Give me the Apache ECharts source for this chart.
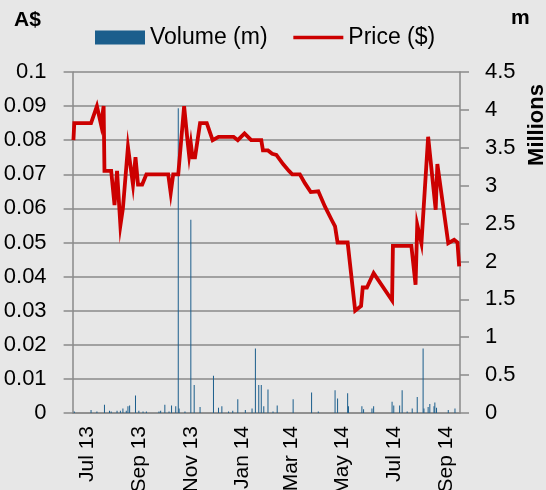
<!DOCTYPE html>
<html>
<head>
<meta charset="utf-8">
<script src="https://cdn.jsdelivr.net/npm/echarts@6/dist/echarts.min.js"></script>
<style>
html,body{margin:0;padding:0;background:#e7e7e7;}
#chart{width:546px;height:490px;}
</style>
</head>
<body>
<div id="chart"></div>
<script>
// Price ($) series
const priceDates = ['2013-06-14','2013-06-15','2013-07-05','2013-07-12','2013-07-17','2013-07-20','2013-07-21','2013-07-29','2013-08-02','2013-08-05','2013-08-09','2013-08-12','2013-08-18','2013-08-24','2013-08-27','2013-08-30','2013-09-04','2013-09-09','2013-10-05','2013-10-08','2013-10-11','2013-10-17','2013-10-24','2013-10-28','2013-10-30','2013-11-01','2013-11-03','2013-11-06','2013-11-12','2013-11-20','2013-11-27','2013-12-04','2013-12-22','2013-12-27','2014-01-04','2014-01-12','2014-01-24','2014-01-26','2014-02-01','2014-02-06','2014-02-11','2014-02-19','2014-02-26','2014-03-02','2014-03-11','2014-03-17','2014-03-24','2014-04-02','2014-04-10','2014-04-18','2014-04-22','2014-04-25','2014-05-07','2014-05-16','2014-05-23','2014-05-25','2014-05-30','2014-06-07','2014-06-29','2014-06-30','2014-07-22','2014-07-27','2014-07-29','2014-08-03','2014-08-11','2014-08-20','2014-08-22','2014-09-04','2014-09-11','2014-09-15','2014-09-17'];
const priceValues = [0.080,0.085,0.085,0.090,0.0845,0.090,0.071,0.071,0.061,0.071,0.055,0.060,0.078,0.067,0.075,0.067,0.067,0.070,0.070,0.0645,0.070,0.070,0.090,0.080,0.0755,0.079,0.075,0.075,0.085,0.085,0.080,0.081,0.081,0.080,0.082,0.080,0.080,0.077,0.077,0.076,0.0757,0.073,0.071,0.070,0.070,0.0674,0.0648,0.065,0.0605,0.0566,0.0547,0.050,0.050,0.030,0.0314,0.0368,0.0368,0.041,0.033,0.049,0.049,0.0376,0.0552,0.0498,0.081,0.0596,0.073,0.0498,0.0508,0.050,0.043];

// Volume (m) series, millions
const volumeDates = ['2013-06-15','2013-07-05','2013-07-12','2013-07-21','2013-07-27','2013-07-29','2013-08-05','2013-08-09','2013-08-12','2013-08-16','2013-08-18','2013-08-20','2013-08-27','2013-08-31','2013-09-05','2013-09-09','2013-09-24','2013-09-26','2013-10-01','2013-10-06','2013-10-09','2013-10-14','2013-10-17','2013-10-18','2013-10-25','2013-11-01','2013-11-05','2013-11-12','2013-11-28','2013-12-04','2013-12-08','2013-12-16','2013-12-21','2013-12-27','2014-01-05','2014-01-13','2014-01-17','2014-01-21','2014-01-24','2014-01-27','2014-02-01','2014-02-07','2014-02-12','2014-03-03','2014-03-25','2014-04-02','2014-04-22','2014-04-25','2014-05-07','2014-05-08','2014-05-24','2014-05-26','2014-06-05','2014-06-07','2014-06-29','2014-07-01','2014-07-08','2014-07-11','2014-07-17','2014-07-23','2014-07-29','2014-08-05','2014-08-06','2014-08-11','2014-08-13','2014-08-18','2014-08-19','2014-08-21','2014-09-04','2014-09-12'];
const volumeValues = [0.02,0.04,0.02,0.11,0.03,0.02,0.03,0.03,0.06,0.03,0.09,0.10,0.23,0.03,0.02,0.02,0.02,0.03,0.11,0.02,0.10,0.09,4.02,0.06,0.02,2.55,0.37,0.08,0.49,0.07,0.09,0.02,0.03,0.18,0.04,0.06,0.85,0.37,0.37,0.09,0.31,0.02,0.10,0.18,0.27,0.02,0.30,0.19,0.26,0.09,0.09,0.05,0.06,0.09,0.15,0.10,0.10,0.30,0.02,0.06,0.21,0.85,0.06,0.08,0.12,0.09,0.14,0.07,0.04,0.06];

// x-axis tick labels
const xTickDates = ['2013-07-01','2013-09-01','2013-11-01','2014-01-01','2014-03-01','2014-05-01','2014-07-01','2014-09-01'];
const xTickLabels = ['Jul 13','Sep 13','Nov 13','Jan 14','Mar 14','May 14','Jul 14','Sep 14'];

function ts(s){const p=s.split('-');return Date.UTC(+p[0],+p[1]-1,+p[2]);}
const tickTs = xTickDates.map(ts);

const FONT = 'Liberation Sans, Arial, sans-serif';
const GRID = '#8a8a8a';

const chart = echarts.init(document.getElementById('chart'), null, {renderer:'canvas'});
chart.setOption({
  backgroundColor:'#e7e7e7',
  animation:false,
  textStyle:{fontFamily:FONT},
  grid:{left:72.6, right:86, top:72, bottom:77, containLabel:false, outerBoundsMode:'none'},
  legend:{
    left:95, top:26, padding:0, itemWidth:50, itemHeight:14, itemGap:24,
    textStyle:{fontSize:23, color:'#000', fontFamily:FONT},
    data:[{name:'Volume (m)', icon:'rect'},{name:'Price ($)', itemStyle:{opacity:0}, lineStyle:{width:3.5, color:'#cc0000'}}]
  },
  xAxis:{
    type:'value',
    min:ts('2013-06-13'), max:ts('2014-09-18'),
    axisLine:{show:true, onZero:false, lineStyle:{color:GRID, width:1.5}},
    axisTick:{show:false},
    splitLine:{show:false},
    axisLabel:{
      customValues:tickTs,
      rotate:90, margin:13, fontSize:21, color:'#000', fontFamily:FONT,
      formatter:function(v){const i=tickTs.indexOf(v);return i>=0?xTickLabels[i]:'';}
    }
  },
  yAxis:[
    {
      type:'value', min:0, max:0.1, interval:0.01, position:'left',
      axisLine:{show:true, lineStyle:{color:GRID, width:1.5}},
      axisTick:{show:true, length:9, lineStyle:{color:GRID, width:1.5}},
      splitLine:{show:true, lineStyle:{color:GRID, width:1.5}},
      axisLabel:{margin:26, fontSize:22, color:'#000', fontFamily:FONT,
        formatter:function(v){return String(Math.round(v*100)/100);}}
    },
    {
      type:'value', min:0, max:4.5, interval:0.5, position:'right',
      axisLine:{show:true, lineStyle:{color:GRID, width:1.5}},
      axisTick:{show:true, length:9, lineStyle:{color:GRID, width:1.5}},
      splitLine:{show:false},
      axisLabel:{margin:25, fontSize:22, color:'#000', fontFamily:FONT}
    }
  ],
  graphic:[
    {type:'text', left:14, top:10, style:{text:'A$', font:'bold 21px '+FONT, fill:'#000'}},
    {type:'text', left:511, top:8, style:{text:'m', font:'bold 21px '+FONT, fill:'#000'}},
    {type:'text', x:537, y:125, rotation:Math.PI/2, style:{text:'Millions', font:'bold 22px '+FONT, fill:'#000', align:'center', verticalAlign:'middle'}}
  ],
  series:[
    {
      name:'Volume (m)', type:'bar', yAxisIndex:1, barWidth:1, z:2,
      itemStyle:{color:'#1b5e8c'},
      data:volumeDates.map((d,i)=>[ts(d), volumeValues[i]])
    },
    {
      name:'Price ($)', type:'line', yAxisIndex:0, z:3,
      symbol:'none', showSymbol:false,
      lineStyle:{color:'#cc0000', width:3.8, join:'miter'},
      itemStyle:{color:'#cc0000'},
      data:priceDates.map((d,i)=>[ts(d), priceValues[i]])
    }
  ]
});
</script>
</body>
</html>
